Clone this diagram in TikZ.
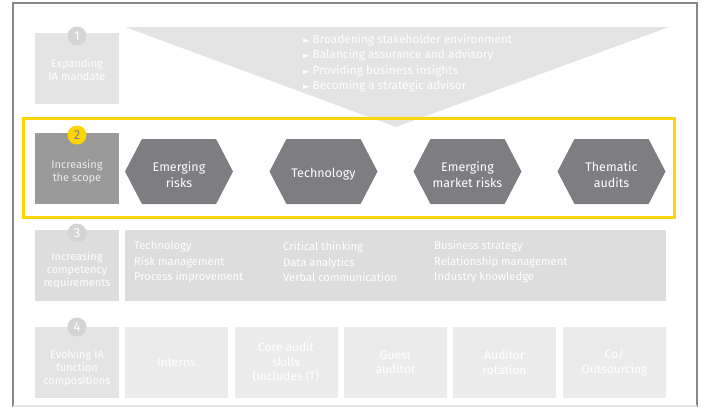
\documentclass[tikz,border=0pt]{standalone}
\usepackage{fontspec}
\setmainfont{Fira Sans}
\newfontfamily\symfont{DejaVu Sans}
\usetikzlibrary{shapes.symbols}
\definecolor{frameColor}{HTML}{878787}
\definecolor{fadedColor}{HTML}{E4E4E4}
\definecolor{fadedDot}{HTML}{D4D4D4}
\definecolor{scopeColor}{HTML}{9A9A9A}
\definecolor{hexColor}{HTML}{7E7D82}
\definecolor{focusYellow}{HTML}{FFD500}
\definecolor{rowColor}{HTML}{EBEBEB}

\begin{document}
\begin{tikzpicture}[x=1pt,y=-1pt]

          \tikzstyle{stageBox} = [minimum width=84pt,minimum height=71pt,inner sep=0pt];
          \tikzstyle{stageText} = [inner sep=0pt,align=center,text=white,font=\fontsize{11}{13}\selectfont];
          \tikzstyle{stageDot} = [circle,minimum size=19pt,inner sep=0pt,text=white,font=\fontsize{13}{13}\selectfont];
          \tikzstyle{riskHex} = [signal,signal to=west and east,signal pointer angle=125,fill=hexColor,minimum width=108pt,minimum height=65pt,inner sep=0pt];
          \tikzstyle{riskText} = [inner sep=0pt,align=center,text=white,font=\fontsize{12.5}{16}\selectfont];
          \tikzstyle{staffBox} = [fill=rowColor,minimum width=103pt,minimum height=71pt,inner sep=0pt,align=center,text=white,font=\fontsize{12}{14.5}\selectfont];
          \tikzstyle{bulletText} = [anchor=west,inner sep=0pt,text=white,font=\fontsize{11.8}{12}\selectfont];
          \tikzstyle{skillText} = [anchor=west,inner sep=0pt,align=left,text=white,font=\fontsize{11.2}{15.5}\selectfont];

          \useasboundingbox (0,0) rectangle (702,407);

          % frame
          \draw[frameColor,line width=2pt] (13,407) -- (13,3) -- (697,3) -- (697,407);
          \draw[fadedColor,line width=1.5pt] (13,406) -- (697,406);

          % 1
          \fill[fadedColor] (125,27) -- (669,27) -- (396,127) -- cycle;
          \node[stageBox,fill=fadedColor] (mandate) at (77,68.5) {};
          \node[stageText] (mandateText) at (77,69.5) {Expanding\\IA mandate};
          \node[stageDot,fill=fadedDot] (n1) at (77,36) {1};
          \node[bulletText] (b1) at (303,40) {{\symfont\fontsize{8.5}{8}\selectfont►}\hspace{3pt}Broadening stakeholder environment};
          \node[bulletText] (b2) at (303,55.5) {{\symfont\fontsize{8.5}{8}\selectfont►}\hspace{3pt}Balancing assurance and advisory};
          \node[bulletText] (b3) at (303,71) {{\symfont\fontsize{8.5}{8}\selectfont►}\hspace{3pt}Providing business insights};
          \node[bulletText] (b4) at (303,86.5) {{\symfont\fontsize{8.5}{8}\selectfont►}\hspace{3pt}Becoming a strategic advisor};

          % 2
          \draw[focusYellow,line width=3pt] (23,118) rectangle (674,217);
          \node[stageBox,fill=scopeColor] (scope) at (77,168.5) {};
          \node[stageText,text=white!92!black] (scopeText) at (77,171.5) {Increasing\\the scope};
          \node[stageDot,fill=focusYellow,text=hexColor] (n2) at (77,135) {2};
          \node[riskHex] (emerging) at (179,171.5) {};
          \node[riskHex] (tech) at (323.5,171.5) {};
          \node[riskHex] (market) at (467.5,171.5) {};
          \node[riskHex] (thematic) at (611.5,171.5) {};
          \node[riskText] (emergingText) at (179,174.5) {Emerging\\risks};
          \node[riskText] (techText) at (323.5,174.5) {Technology};
          \node[riskText] (marketText) at (467.5,174.5) {Emerging\\market risks};
          \node[riskText] (thematicText) at (611.5,174.5) {Thematic\\audits};

          % 3
          \node[stageBox,fill=fadedColor!97!black] (competency) at (77,265.5) {};
          \node[stageText] (competencyText) at (77,270) {Increasing\\competency\\requirements};
          \node[stageDot,fill=fadedDot] (n3) at (77,233) {3};
          \node[fill=fadedColor!97!black,minimum width=541pt,minimum height=71pt,inner sep=0pt] (skills) at (395.5,265.5) {};
          \node[skillText] (colA) at (134,262) {Technology\\Risk management\\Process improvement};
          \node[skillText] (colB) at (283,262) {Critical thinking\\Data analytics\\Verbal communication};
          \node[skillText] (colC) at (434,262) {Business strategy\\Relationship management\\Industry knowledge};

          % 4
          \node[stageBox,fill=fadedColor] (composition) at (77,362.5) {};
          \node[stageText] (compositionText) at (77,368) {Evolving IA\\function\\compositions};
          \node[stageDot,fill=fadedDot] (n4) at (77,327) {4};
          \node[staffBox] (interns) at (176.5,362.5) {Interns};
          \node[staffBox] (core) at (286,362.5) {Core audit\\skills\\(includes IT)};
          \node[staffBox] (guest) at (395.5,362.5) {Guest\\auditor};
          \node[staffBox] (rotation) at (504.5,362.5) {Auditor\\rotation};
          \node[staffBox] (outsource) at (614.5,362.5) {Co/\\Outsourcing};
        \end{tikzpicture}
\end{document}
